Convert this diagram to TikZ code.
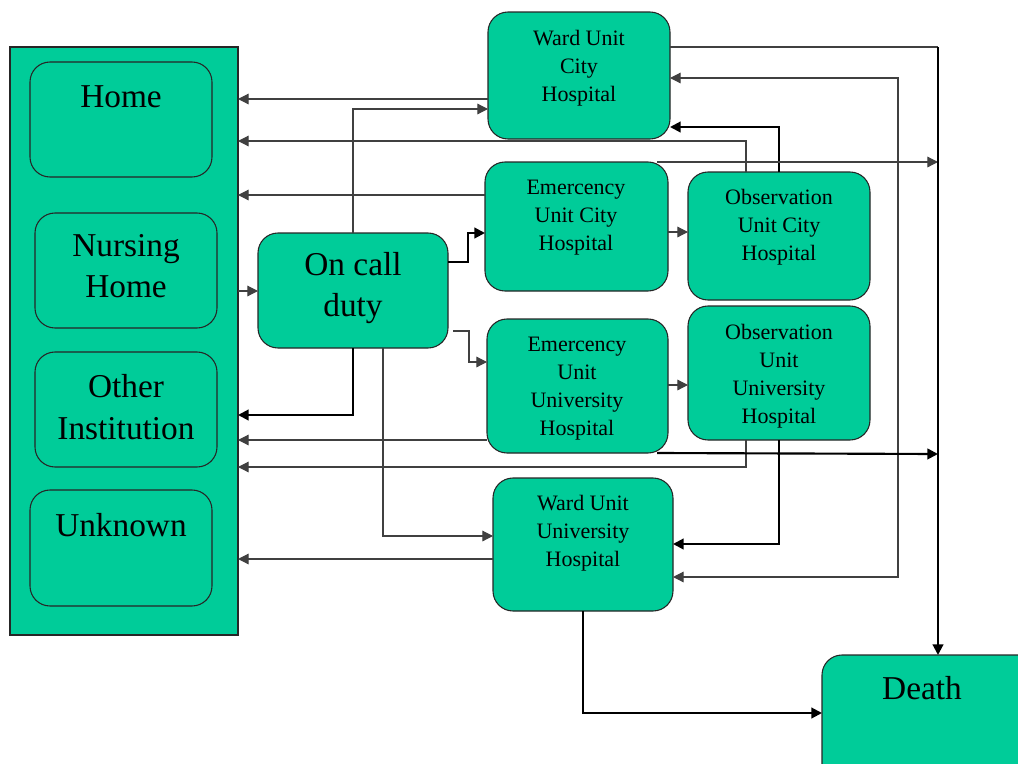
\documentclass[tikz,border=0pt]{standalone}
\usepackage{fontspec}
\setmainfont{Liberation Serif}
\usetikzlibrary{arrows.meta}
\definecolor{boxgreen}{RGB}{0,204,153}
\begin{document}
\begin{tikzpicture}[x=0.75pt,y=-0.75pt,
  sz/.style 2 args={minimum width=#1*0.75pt, minimum height=#2*0.75pt},
  box/.style={draw=black!85, fill=boxgreen, rounded corners=15pt, line width=0.8pt, inner sep=0pt, outer sep=0pt, anchor=north west},
  panelbox/.style={draw=black!85, fill=boxgreen, line width=0.8pt, inner sep=0pt, outer sep=0pt, anchor=north west},
  smalltxt/.style={align=center, inner sep=0pt, font=\fontsize{16.5}{21}\selectfont},
  bigtxt/.style={align=center, inner sep=0pt, font=\fontsize{25}{31}\selectfont},
  tip/.style={-{Triangle[length=8pt,width=8pt]}},
  ln/.style={line width=0.9pt, draw=black!75},
  tk/.style={line width=1.6pt, draw=black},
]
\useasboundingbox (0,0) rectangle (1018,764);

% level coordinates
\foreach \v in {47,78,99,109,127,141,162,195,232,233,262,291,331,362,385,415,440,454,467,536,544,559,577,713}
  {\coordinate (y\v) at (0,\v);}
\foreach \v in {468,469,657,746,898,938}
  {\coordinate (x\v) at (\v,0);}

% left panel
\node[panelbox, sz={228}{588}] (panel) at (10,47) {};
\node[box, sz={182}{115}] (home) at (30,62) {};
\node[box, sz={182}{115}] (nursing) at (35,213) {};
\node[box, sz={182}{115}] (other) at (35,352) {};
\node[box, sz={182}{116}] (unknown) at (30,490) {};

% main boxes
\node[box, sz={190}{115}] (oncall) at (258,233) {};
\node[box, sz={182}{127}] (wardC) at (488,12) {};
\node[box, sz={183}{129}] (emC) at (485,162) {};
\node[box, sz={182}{128}] (obsC) at (688,172) {};
\node[box, sz={181}{134}] (emU) at (487,319) {};
\node[box, sz={182}{134}] (obsU) at (688,306) {};
\node[box, sz={180}{133}] (wardU) at (493,478) {};
\node[box, sz={220}{130}] (death) at (822,655) {};

% texts
\node[bigtxt] (thome) at (121,97) {Home};
\node[bigtxt] (tnursing) at (126,266) {Nursing\\Home};
\node[bigtxt] (tother) at (126,407) {Other\\Institution};
\node[bigtxt] (tunknown) at (121,525) {Unknown};
\node[bigtxt] (toncall) at (353,288) {On call\\duty};
\node[bigtxt] (tdeath) at (922,688) {Death};
\node[smalltxt] (twardC) at (579,68) {Ward Unit\\City\\Hospital};
\node[smalltxt] (temC) at (576,218) {Emercency\\Unit City\\Hospital};
\node[smalltxt] (tobsC) at (779,227) {Observation\\Unit City\\Hospital};
\node[smalltxt] (temU) at (577,389) {Emercency\\Unit\\University\\Hospital};
\node[smalltxt] (tobsU) at (779,376) {Observation\\Unit\\University\\Hospital};
\node[smalltxt] (twardU) at (583,533) {Ward Unit\\University\\Hospital};

% connectors
\draw[ln,tip] (wardC.west|-y99) -- (panel.east|-y99);
\draw[ln,tip] (oncall.north) |- (wardC.west|-y109);
\draw[ln,tip] (obsC.north-|x746) |- (panel.east|-y141);
\draw[tk,tip] (obsC.north) |- (wardC.east|-y127);
\draw[ln,tip] (emC.north-|x657) -- (x938|-y162);
\draw[ln] (wardC.east|-y47) -- (x938|-y47);
\draw[tk,tip] (x938|-y47) -- (death.north-|x938);
\draw[ln,{Triangle[length=8pt,width=8pt]}-{Triangle[length=8pt,width=8pt]}] (wardU.east|-y577) -| (x898|-y78) -- (wardC.east|-y78);
\draw[ln,tip] (emC.west|-y195) -- (panel.east|-y195);
\draw[ln,tip] (panel.east|-y291) -- (oncall.west|-y291);
\draw[tk,tip] (oncall.east|-y262) -- (x468|-y262) |- (emC.west|-y233);
\draw[ln,tip] ([xshift=4pt]oncall.east|-y331) -- (x469|-y331) |- (emU.west|-y362);
\draw[tk,tip] (oncall.south) |- (panel.east|-y415);
\draw[ln,tip] (emU.west|-y440) -- (panel.east|-y440);
\draw[ln,tip] (obsU.south-|x746) |- (panel.east|-y467);
\draw[ln,tip] ([xshift=22.5pt]oncall.south) |- (wardU.west|-y536);
\draw[ln,tip] (wardU.west|-y559) -- (panel.east|-y559);
\draw[tk,tip] (obsU.south) |- (wardU.east|-y544);
\draw[tk,tip] (emU.south-|x657) -- (x938|-y454);
\draw[tk,tip] (wardU.south) |- (death.west|-y713);
\draw[ln,tip] (emC.east|-y232) -- (obsC.west|-y232);
\draw[ln,tip] (emU.east|-y385) -- (obsU.west|-y385);
\end{tikzpicture}
\end{document}
